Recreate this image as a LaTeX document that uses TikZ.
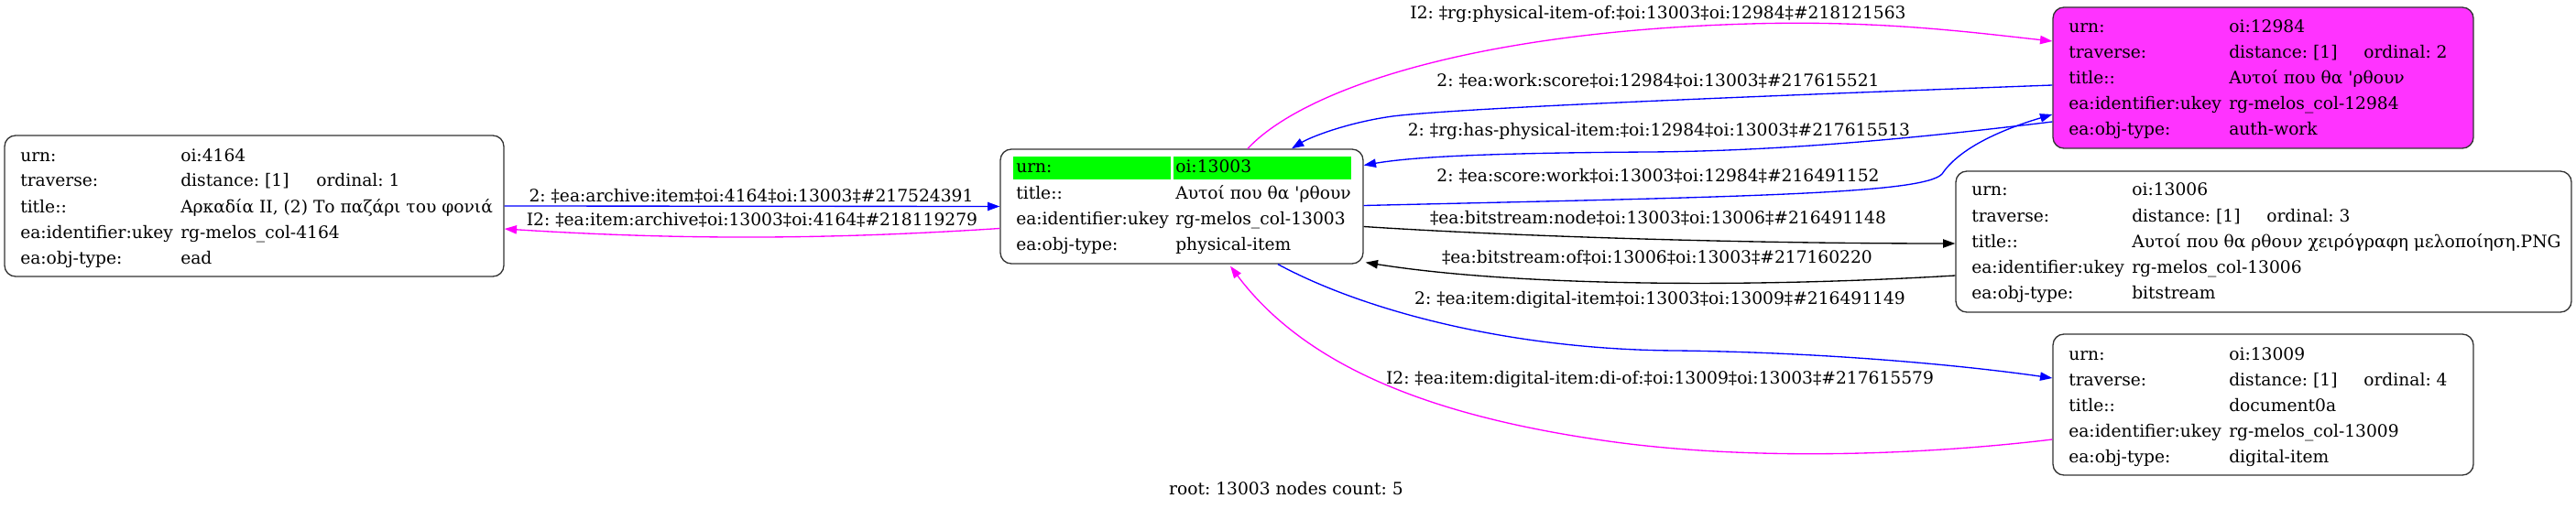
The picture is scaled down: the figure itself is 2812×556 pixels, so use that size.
\documentclass[tikz,border=0pt]{standalone}
\usepackage{fontspec}
\newfontfamily\dvs{DejaVu Serif}
\usetikzlibrary{arrows.meta,calc,fit}
\definecolor{mag}{RGB}{255,0,255}
\definecolor{magfill}{RGB}{255,51,255}
\definecolor{grn}{RGB}{0,255,0}
\definecolor{blu}{RGB}{0,0,255}
\frenchspacing
\newcommand\fldrow[6]{\node[txt] (#1k) at (#2,#4) {#5}; \node[txt] (#1v) at (#3,#4) {#6};}
\tikzset{
  box/.style={draw=black!80, line width=1pt, rounded corners=9pt, inner sep=0pt},
  txt/.style={font=\dvs\fontsize{14}{17}\selectfont\frenchspacing, inner sep=0pt, anchor=base west},
  elabel/.style={font=\dvs\fontsize{14}{17}\selectfont\frenchspacing, inner sep=0pt, anchor=base},
  conn/.style={line width=1pt, -{Triangle[length=10pt,width=7pt]}},
}
\begin{document}
\begin{tikzpicture}[x=0.75pt,y=-0.75pt]
\useasboundingbox (0,0) rectangle (2812,556);
% boxes
\node[box, fit={(5,148)(550,302)}] (A) {};
\node[box, fit={(1092,163)(1488,288)}] (B) {};
\node[box, fill=magfill, fit={(2241,8)(2700,162)}] (C) {};
\node[box, fit={(2135,187)(2807,341)}] (D) {};
\node[box, fit={(2241,365)(2700,519)}] (E) {};
% A
\fldrow{A1}{22}{197}{176}{urn:}{oi:4164}
\fldrow{A2}{22}{197}{204}{traverse:}{distance: [1]}
\node[txt] (A2o) at (345,204) {ordinal: 1};
\fldrow{A3}{22}{197}{232}{title::}{Αρκαδία II, (2) Το παζάρι του φονιά}
\fldrow{A4}{22}{197}{260}{ea:identifier:ukey}{rg-melos\_col-4164}
\fldrow{A5}{22}{197}{288}{ea:obj-type:}{ead}
% B
\node[fill=grn, inner sep=0pt, fit={(1106,171)(1278,196)}] (Bg1) {};
\node[fill=grn, inner sep=0pt, fit={(1281,171)(1475,196)}] (Bg2) {};
\fldrow{B1}{1109}{1283}{189}{urn:}{oi:13003}
\fldrow{B2}{1109}{1283}{217}{title::}{Αυτοί που θα 'ρθουν}
\fldrow{B3}{1109}{1283}{245}{ea:identifier:ukey}{rg-melos\_col-13003}
\fldrow{B4}{1109}{1283}{273}{ea:obj-type:}{physical-item}
% C
\fldrow{C1}{2258}{2433}{36}{urn:}{oi:12984}
\fldrow{C2}{2258}{2433}{64}{traverse:}{distance: [1]}
\node[txt] (C2o) at (2580,64) {ordinal: 2};
\fldrow{C3}{2258}{2433}{92}{title::}{Αυτοί που θα 'ρθουν}
\fldrow{C4}{2258}{2433}{120}{ea:identifier:ukey}{rg-melos\_col-12984}
\fldrow{C5}{2258}{2433}{148}{ea:obj-type:}{auth-work}
% D
\fldrow{D1}{2152}{2327}{214}{urn:}{oi:13006}
\fldrow{D2}{2152}{2327}{242}{traverse:}{distance: [1]}
\node[txt] (D2o) at (2474,242) {ordinal: 3};
\fldrow{D3}{2152}{2327}{270}{title::}{Αυτοί που θα ρθουν χειρόγραφη μελοποίηση.PNG}
\fldrow{D4}{2152}{2327}{298}{ea:identifier:ukey}{rg-melos\_col-13006}
\fldrow{D5}{2152}{2327}{326}{ea:obj-type:}{bitstream}
% E
\fldrow{E1}{2258}{2433}{393}{urn:}{oi:13009}
\fldrow{E2}{2258}{2433}{421}{traverse:}{distance: [1]}
\node[txt] (E2o) at (2580,421) {ordinal: 4};
\fldrow{E3}{2258}{2433}{449}{title::}{document0a}
\fldrow{E4}{2258}{2433}{477}{ea:identifier:ukey}{rg-melos\_col-13009}
\fldrow{E5}{2258}{2433}{505}{ea:obj-type:}{digital-item}
% edge labels
\node[elabel] (L1) at (820,220) {2: ‡ea:archive:item‡oi:4164‡oi:13003‡\#217524391};
\node[elabel] (L2) at (821,246) {I2: ‡ea:item:archive‡oi:13003‡oi:4164‡\#218119279};
\node[elabel] (L3) at (1810,21) {I2: ‡rg:physical-item-of:‡oi:13003‡oi:12984‡\#218121563};
\node[elabel] (L4) at (1810,95) {2: ‡ea:work:score‡oi:12984‡oi:13003‡\#217615521};
\node[elabel] (L5) at (1811,149) {2: ‡rg:has-physical-item:‡oi:12984‡oi:13003‡\#217615513};
\node[elabel] (L6) at (1810,199) {2: ‡ea:score:work‡oi:13003‡oi:12984‡\#216491152};
\node[elabel] (L7) at (1810,244) {‡ea:bitstream:node‡oi:13003‡oi:13006‡\#216491148};
\node[elabel] (L8) at (1809,287) {‡ea:bitstream:of‡oi:13006‡oi:13003‡\#217160220};
\node[elabel] (L9) at (1812,332) {2: ‡ea:item:digital-item‡oi:13003‡oi:13009‡\#216491149};
\node[elabel] (L10) at (1812,419) {I2: ‡ea:item:digital-item:di-of:‡oi:13009‡oi:13003‡\#217615579};
\node[elabel, anchor=base east] (foot) at (1532,540) {root: 13003 nodes count: 5};
% connectors
\draw[conn, blu] (A.east) -- (B.west);
\draw[conn, mag] ($(B.west)+(0,24)$) .. controls (900,262) and (740,262) .. ($(A.east)+(0,25)$);
\draw[conn, mag] ($(B.north)+(72,0)$) .. controls (1420,100) and (1600,35) .. (1910,26) .. controls (2050,22) and (2150,35) .. ($(C.west)+(0,-40)$);
\draw[conn, blu] ($(C.west)+(0,8)$) .. controls (2000,102) and (1600,117) .. (1520,127) .. controls (1470,134) and (1430,150) .. ($(B.north)+(120,0)$);
\draw[conn, blu] ($(C.west)+(0,48)$) .. controls (2100,150) and (1950,165) .. (1800,166) .. controls (1650,167) and (1550,170) .. ($(B.east)+(0,-45)$);
\draw[conn, blu] ($(B.east)+(0,-1)$) .. controls (1900,215) and (2100,212) .. (2120,190) .. controls (2140,160) and (2190,140) .. ($(C.west)+(0,40)$);
\draw[conn, black] ($(B.east)+(0,22)$) .. controls (1650,258) and (1900,266) .. ($(D.west)+(0,2)$);
\draw[conn, black] ($(D.west)+(0,37)$) .. controls (1900,315) and (1650,312) .. ($(B.south east)+(2,-2)$);
\draw[conn, blu] ($(B.south)+(105,0)$) .. controls (1490,340) and (1650,382) .. (1830,383) .. controls (2000,385) and (2150,400) .. ($(E.west)+(0,-29)$);
\draw[conn, mag] ($(E.west)+(0,38)$) .. controls (2100,497) and (1900,505) .. (1736,479) .. controls (1560,452) and (1425,400) .. ($(B.south)+(53,2)$);
\end{tikzpicture}
\end{document}
